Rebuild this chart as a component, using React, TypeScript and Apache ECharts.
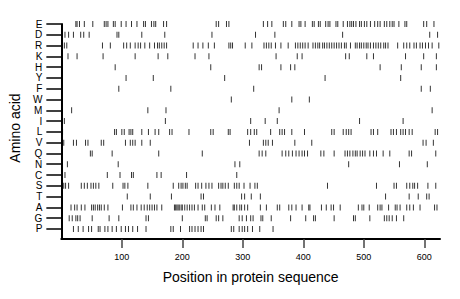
import React, { useEffect, useRef } from "react";
import * as echarts from "echarts";

const aminoAcids = ["E", "D", "R", "K", "H", "Y", "F", "W", "M", "I", "L", "V", "Q", "N", "C", "S", "T", "A", "G", "P"];
const xTicks = [100, 200, 300, 400, 500, 600];
const seqLength = 626;

const posE = [24, 26, 30, 38, 52, 71, 74, 77, 86, 89, 99, 107, 116, 125, 136, 139, 149, 153, 156, 169, 174, 256, 260, 273, 277, 334, 341, 348, 367, 371, 381, 393, 396, 403, 415, 418, 425, 428, 437, 441, 444, 454, 457, 466, 473, 477, 480, 483, 487, 493, 496, 501, 505, 511, 518, 523, 527, 534, 538, 543, 547, 550, 558, 568, 571, 599, 604, 616];
const posD = [6, 12, 20, 32, 37, 46, 92, 95, 133, 171, 249, 321, 353, 465, 609, 622];
const posR = [5, 9, 68, 81, 103, 108, 114, 122, 127, 131, 138, 146, 154, 159, 162, 166, 170, 174, 218, 226, 234, 243, 253, 277, 280, 283, 304, 315, 335, 339, 343, 347, 354, 363, 375, 387, 391, 395, 399, 403, 408, 416, 420, 424, 427, 432, 435, 439, 443, 447, 451, 455, 459, 463, 468, 471, 478, 486, 489, 493, 496, 500, 504, 507, 511, 516, 520, 524, 528, 533, 536, 540, 556, 566, 571, 576, 583, 587, 593, 597, 602, 607, 613, 624];
const posK = [11, 26, 69, 122, 160, 176, 221, 244, 355, 390, 398, 470, 476, 505, 516, 569, 599, 620];
const posH = [89, 247, 327, 331, 363, 379, 386, 527, 562, 595, 620];
const posY = [107, 152, 270, 436, 561];
const posF = [95, 181, 318, 595, 610];
const posW = [281, 381, 410];
const posM = [17, 143, 173, 360, 613];
const posI = [5, 172, 313, 337, 357, 493, 565];
const posL = [2, 88, 91, 100, 104, 112, 115, 118, 133, 144, 155, 161, 179, 183, 211, 247, 251, 276, 279, 308, 313, 319, 323, 346, 361, 365, 369, 381, 402, 447, 451, 466, 471, 475, 479, 512, 516, 523, 545, 549, 554, 561, 565, 569, 575, 580, 618, 622];
const posV = [4, 20, 25, 40, 44, 66, 70, 106, 114, 118, 122, 133, 147, 311, 334, 338, 342, 349, 386, 414, 598, 603, 615];
const posQ = [48, 51, 84, 161, 233, 327, 332, 338, 365, 371, 376, 382, 388, 393, 398, 402, 407, 429, 434, 451, 469, 473, 477, 482, 486, 489, 494, 498, 502, 510, 516, 521, 532, 543, 575, 579, 619];
const posN = [10, 94, 287, 295, 475, 559, 605];
const posC = [6, 76, 97, 116, 119, 158, 165, 207, 290];
const posS = [1, 4, 7, 12, 33, 38, 43, 49, 53, 57, 62, 85, 102, 105, 110, 143, 185, 194, 198, 201, 205, 208, 222, 226, 232, 239, 244, 249, 260, 264, 267, 271, 276, 286, 290, 294, 302, 312, 320, 324, 440, 521, 550, 554, 571, 576, 581, 584, 589, 606, 619];
const posT = [109, 147, 182, 231, 235, 298, 303, 314, 329, 536, 575, 590, 604, 608];
const posA = [16, 22, 26, 33, 39, 50, 53, 56, 60, 63, 66, 71, 77, 101, 115, 119, 125, 132, 137, 142, 146, 150, 154, 158, 166, 187, 189, 191, 193, 195, 198, 200, 204, 208, 212, 216, 220, 226, 233, 237, 248, 254, 262, 284, 286, 290, 295, 298, 303, 308, 329, 339, 357, 361, 376, 381, 388, 398, 409, 411, 430, 438, 446, 450, 461, 491, 497, 500, 509, 523, 527, 530, 541, 552, 555, 560, 571, 576, 582, 593, 617, 621];
const posG = [13, 18, 24, 27, 31, 51, 79, 95, 140, 144, 200, 238, 241, 256, 260, 267, 294, 299, 306, 313, 317, 330, 333, 347, 379, 404, 417, 420, 451, 483, 486, 510, 534, 538, 542, 547, 554, 566];
const posP = [20, 28, 36, 45, 50, 61, 64, 72, 77, 84, 91, 99, 106, 111, 118, 126, 140, 181, 185, 197, 212, 216, 221, 226, 231, 235, 281, 285, 294, 299, 303, 308, 316, 328, 350];

const positionsByAcid = [posE, posD, posR, posK, posH, posY, posF, posW, posM, posI, posL, posV, posQ, posN, posC, posS, posT, posA, posG, posP];

export default function App() {
  const ref = useRef<HTMLDivElement>(null);
  useEffect(() => {
    if (!ref.current) return;
    const chart = echarts.init(ref.current, null, { renderer: "svg" });
    const n = aminoAcids.length;
    const data: number[][] = [];
    positionsByAcid.forEach((arr, i) => {
      const yv = n - 1 - i;
      arr.forEach((p) => data.push([p, yv]));
    });
    const yVals = aminoAcids.map((_, i) => i);
    chart.setOption({
      animation: false,
      backgroundColor: "#fff",
      grid: { left: 59, right: 20, top: 24, bottom: 60, containLabel: false },
      xAxis: {
        type: "value",
        min: 0,
        max: seqLength,
        name: "Position in protein sequence",
        nameLocation: "middle",
        nameGap: 31,
        nameTextStyle: { fontFamily: "Liberation Sans", fontSize: 14, color: "#000" },
        axisLine: { show: true, onZero: false, lineStyle: { color: "#000", width: 2 } },
        axisTick: { show: true, customValues: xTicks, length: 9, lineStyle: { color: "#444", width: 1.5 } },
        axisLabel: {
          customValues: xTicks,
          margin: 13,
          fontFamily: "Liberation Sans",
          fontSize: 9,
          color: "#000",
        },
        splitLine: { show: false },
      },
      yAxis: {
        type: "value",
        min: -0.93,
        max: n - 1,
        name: "Amino acid",
        nameLocation: "middle",
        nameGap: 35,
        nameRotate: 90,
        nameTextStyle: { fontFamily: "Liberation Sans", fontSize: 14, color: "#000", padding: [0, 0, 0, 7] },
        axisLine: { show: true, onZero: false, lineStyle: { color: "#000", width: 2 } },
        axisTick: { show: true, customValues: yVals, length: 15, lineStyle: { color: "#000", width: 1.5 } },
        axisLabel: {
          customValues: yVals,
          margin: 19,
          fontFamily: "Liberation Sans",
          fontSize: 10,
          color: "#000",
          formatter: (v: number) => aminoAcids[n - 1 - Math.round(v)] ?? "",
        },
        splitLine: { show: false },
      },
      series: [
        {
          type: "scatter",
          data,
          symbol: "rect",
          symbolSize: [1, 6],
          itemStyle: { color: "#000" },
          emphasis: { disabled: true },
          silent: true,
        },
      ],
    });
    return () => chart.dispose();
  }, []);
  return <div ref={ref} style={{ width: 460, height: 299, position: "absolute", left: 0, top: 0 }} />;
}
